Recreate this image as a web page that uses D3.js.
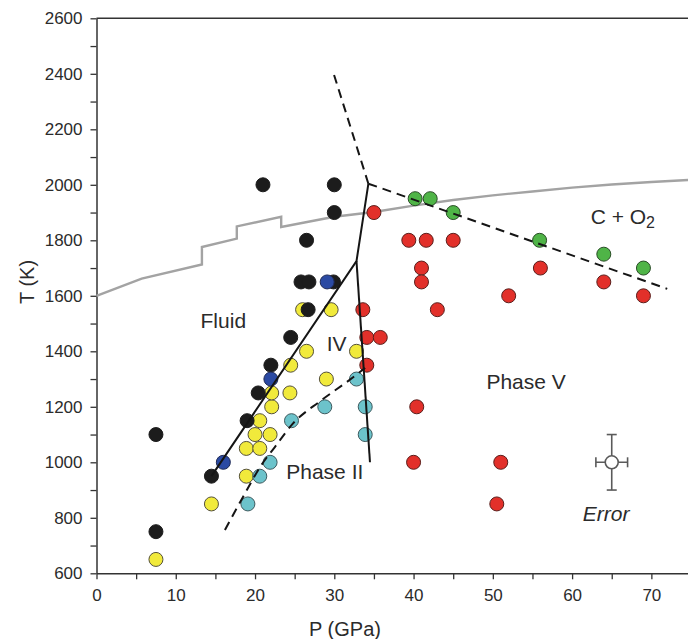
<!DOCTYPE html>
<html>
<head>
<meta charset="utf-8">
<script src="https://cdn.jsdelivr.net/npm/d3@7"></script>
<style>
  body { margin: 0; background: #fff; }
  svg text { font-family: "Liberation Sans", Arial, sans-serif; fill: #2b2b2b; }
</style>
</head>
<body>
<svg id="chart" width="688" height="639"></svg>
<script>
// all points are [P (GPa), T (K)]
const fluidPoints = [
  [7.5, 1100], [7.5, 750], [14.5, 950], [19, 1150], [20.4, 1250], [22, 1350],
  [24.5, 1450], [26.7, 1550], [25.8, 1650], [26.8, 1650], [29.9, 1650],
  [26.5, 1800], [21, 2000], [30, 2000], [30, 1900]
];
const phase4Points = [
  [7.5, 650], [14.5, 850], [18.9, 950], [18.9, 1050], [20.6, 1050], [20, 1100],
  [21.9, 1100], [20.6, 1150], [22.1, 1200], [22.1, 1250], [24.4, 1250],
  [24.5, 1350], [29, 1300], [26.5, 1400], [32.8, 1400], [26, 1550], [29.6, 1550]
];
const phase2Points = [
  [19.1, 850], [20.6, 950], [21.9, 1000], [24.6, 1150], [28.8, 1200],
  [32.8, 1300], [33.9, 1200], [33.9, 1100]
];
const bluePoints = [[16, 1000], [22, 1300], [29.1, 1650]];
const phase5Points = [
  [35, 1900], [39.4, 1800], [41.6, 1800], [45, 1800], [41, 1700], [41, 1650],
  [56, 1700], [64, 1650], [69, 1600], [52, 1600], [33.6, 1550], [43, 1550],
  [34.1, 1450], [35.8, 1450], [34.1, 1350], [40.4, 1200], [40, 1000],
  [51, 1000], [50.5, 850]
];
const decomposedPoints = [
  [40.2, 1950], [42.1, 1950], [45, 1900], [55.9, 1800], [64, 1750], [69, 1700]
];

const decompositionCurve = [
  [0, 1600], [5.7, 1662], [13.3, 1713], [13.3, 1776], [17.7, 1806], [17.7, 1850],
  [23.3, 1885], [23.3, 1848], [30, 1885], [35, 1902], [40, 1925], [45, 1945],
  [50, 1962], [55, 1976], [60, 1990], [65, 2001], [70, 2010], [75, 2018]
];
const fluidBoundary = [[14.5, 950], [32.8, 1725], [34.3, 2004]];
const phase5Boundary = [[34.5, 1000], [32.8, 1725]];
const upperDashed = [[34.3, 2004], [29.9, 2402]];
const rightDashed = [[34.3, 2004], [72, 1625]];
const phase2Boundary = [
  [16.2, 756], [18.5, 876], [20.8, 990], [22.5, 1055], [24.8, 1140],
  [28.2, 1220], [31.6, 1290], [33.9, 1340]
];

const errorPoint = [65, 1000];
const errorP = 2;
const errorT = 100;

const regionLabels = [
  {text: 'Fluid', at: [16, 1512]},
  {text: 'IV', at: [30.3, 1429]},
  {text: 'Phase II', at: [28.8, 966]},
  {text: 'Phase V', at: [54.2, 1290]},
];

const pTicks = d3.range(0, 76, 5);
const tTicks = d3.range(600, 2601, 100);

const width = 688;
const x = d3.scaleLinear().domain([0, 75]).range([96.5, 691]);
const y = d3.scaleLinear().domain([600, 2600]).range([573.3, 18.3]);

const svg = d3.select('#chart');
const line = d3.line().x(d => x(d[0])).y(d => y(d[1]));

// axes
const xAxis = svg.append('g')
  .attr('transform', `translate(0,${y(600)})`)
  .call(d3.axisBottom(x).tickValues(pTicks)
    .tickFormat(d => d % 10 === 0 ? d : '')
    .tickSize(6).tickPadding(10).tickSizeOuter(0));

const yAxis = svg.append('g')
  .attr('transform', `translate(${x(0)},0)`)
  .call(d3.axisLeft(y).tickValues(tTicks)
    .tickFormat(d => d % 200 === 0 ? d : '')
    .tickSize(6).tickPadding(8).tickSizeOuter(0));

[xAxis, yAxis].forEach(axis => {
  axis.select('.domain').attr('stroke', '#333').attr('stroke-width', 1.5);
  axis.selectAll('.tick line').attr('stroke', '#333').attr('stroke-width', 1.3);
  axis.selectAll('.tick text')
    .style('font-family', '"Liberation Sans", Arial, sans-serif')
    .style('font-size', '17px')
    .attr('fill', '#2b2b2b');
});

svg.append('line')
  .attr('x1', x(0)).attr('x2', width)
  .attr('y1', y(2600)).attr('y2', y(2600))
  .attr('stroke', '#333').attr('stroke-width', 1.5);

svg.append('text')
  .attr('x', 345).attr('y', 636)
  .attr('text-anchor', 'middle')
  .style('font-size', '20px')
  .text('P (GPa)');

svg.append('text')
  .attr('transform', `translate(34,${y(1650)}) rotate(-90)`)
  .attr('text-anchor', 'middle')
  .style('font-size', '20px')
  .text('T (K)');

// grey decomposition curve sits under the points
svg.append('path')
  .datum(decompositionCurve)
  .attr('d', line.curve(d3.curveLinear))
  .attr('fill', 'none')
  .attr('stroke', '#a3a3a3')
  .attr('stroke-width', 2.4);

function drawPoints(data, fill, stroke) {
  svg.append('g')
    .selectAll('circle')
    .data(data)
    .enter()
    .append('circle')
    .attr('cx', d => x(d[0]))
    .attr('cy', d => y(d[1]))
    .attr('r', 7)
    .attr('fill', fill)
    .attr('stroke', stroke)
    .attr('stroke-width', 1);
}

drawPoints(phase4Points, '#f1ea3b', '#55513a');
drawPoints(phase2Points, '#6cc3cb', '#3d5a5e');
drawPoints(fluidPoints, '#1c1c1c', '#1c1c1c');
drawPoints(bluePoints, '#2b4aa3', '#1f2a55');
drawPoints(phase5Points, '#e2302a', '#5a1f1c');
drawPoints(decomposedPoints, '#4fb447', '#2a4d27');

// phase boundaries
const solid = [fluidBoundary, phase5Boundary];
solid.forEach(seg => {
  svg.append('path')
    .datum(seg)
    .attr('d', d3.line().x(d => x(d[0])).y(d => y(d[1])))
    .attr('fill', 'none')
    .attr('stroke', '#151515')
    .attr('stroke-width', 2);
});

[upperDashed, rightDashed].forEach(seg => {
  svg.append('path')
    .datum(seg)
    .attr('d', d3.line().x(d => x(d[0])).y(d => y(d[1])))
    .attr('fill', 'none')
    .attr('stroke', '#151515')
    .attr('stroke-width', 2)
    .attr('stroke-dasharray', '9,6');
});

svg.append('path')
  .datum(phase2Boundary)
  .attr('d', d3.line().x(d => x(d[0])).y(d => y(d[1])).curve(d3.curveMonotoneX))
  .attr('fill', 'none')
  .attr('stroke', '#151515')
  .attr('stroke-width', 2)
  .attr('stroke-dasharray', '9,6');

// labels
svg.append('g')
  .selectAll('text')
  .data(regionLabels)
  .enter()
  .append('text')
  .attr('x', d => x(d.at[0]))
  .attr('y', d => y(d.at[1]))
  .attr('dy', '0.35em')
  .attr('text-anchor', 'middle')
  .style('font-size', '21px')
  .text(d => d.text);

const co2 = svg.append('text')
  .attr('x', x(66.4))
  .attr('y', y(1884))
  .attr('dy', '0.35em')
  .attr('text-anchor', 'middle')
  .style('font-size', '21px');
co2.append('tspan').text('C + O');
co2.append('tspan').attr('dy', '4').style('font-size', '16px').text('2');

// error marker
const ex = x(errorPoint[0]), ey = y(errorPoint[1]);
const err = svg.append('g')
  .attr('stroke', '#5a5a5a')
  .attr('stroke-width', 1.6);
err.append('line')
  .attr('x1', ex).attr('x2', ex)
  .attr('y1', y(errorPoint[1] + errorT)).attr('y2', y(errorPoint[1] - errorT));
err.append('line')
  .attr('x1', x(errorPoint[0] - errorP)).attr('x2', x(errorPoint[0] + errorP))
  .attr('y1', ey).attr('y2', ey);
[errorPoint[1] + errorT, errorPoint[1] - errorT].forEach(t => {
  err.append('line')
    .attr('x1', ex - 5).attr('x2', ex + 5)
    .attr('y1', y(t)).attr('y2', y(t));
});
[errorPoint[0] - errorP, errorPoint[0] + errorP].forEach(p => {
  err.append('line')
    .attr('x1', x(p)).attr('x2', x(p))
    .attr('y1', ey - 5).attr('y2', ey + 5);
});
err.append('circle')
  .attr('cx', ex).attr('cy', ey).attr('r', 6.5)
  .attr('fill', '#fff');

svg.append('text')
  .attr('x', x(64.3))
  .attr('y', y(816))
  .attr('dy', '0.35em')
  .attr('text-anchor', 'middle')
  .style('font-size', '21px')
  .style('font-style', 'italic')
  .text('Error');
</script>
</body>
</html>
